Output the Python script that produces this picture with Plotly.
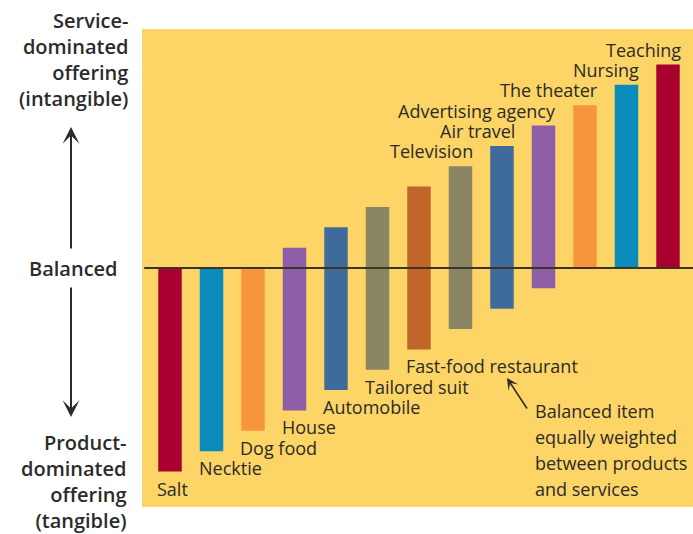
import plotly.graph_objects as go

# Offerings ordered from product-dominated to service-dominated
offerings = ["Salt", "Necktie", "Dog food", "House", "Automobile", "Tailored suit",
             "Fast-food restaurant", "Television", "Air travel", "Advertising agency",
             "The theater", "Nursing", "Teaching"]
# Service (intangible) share drawn above the balance line, product (tangible) share below it
service = [0, 0, 0, 1, 2, 3, 4, 5, 6, 7, 8, 9, 10]
product = [10, 9, 8, 7, 6, 5, 4, 3, 2, 1, 0, 0, 0]
colors = ["#A8002F", "#0A8CBB", "#F7963C", "#8E5FA8", "#3F6A9C", "#8A8562", "#C0662A",
          "#8A8562", "#3F6A9C", "#8E5FA8", "#F7963C", "#0A8CBB", "#A8002F"]
# Labels placed above the bar (service side) vs. below it (product side)
label_above = [False] * 7 + [True] * 6

service_lines = ["Service-", "dominated", "offering", "(intangible)"]
product_lines = ["Product-", "dominated", "offering", "(tangible)"]
callout_lines = ["Balanced item", "equally weighted", "between products", "and services"]

W, H = 693, 534
L, T, R, B = 142, 29, 0, 27
PW, PH = W - L - R, H - T - B
BAR_W = 0.566
TEXT = "#2b2b2b"
FONT = "Open Sans"
LABEL_FONT = dict(family=FONT, size=18, color=TEXT)
SIDE_FONT = dict(family=FONT, size=20, color=TEXT, weight=600)


def px(x):
    return (x - L) / PW


def py(y):
    return (H - B - y) / PH


xs = list(range(len(offerings)))
fig = go.Figure(go.Bar(
    x=xs,
    y=[s + p for s, p in zip(service, product)],
    base=[-p for p in product],
    width=BAR_W,
    marker=dict(color=colors, line=dict(width=0)),
    hovertext=offerings,
    hoverinfo="text",
))

annotations = []
for i, name in enumerate(offerings):
    if label_above[i]:
        annotations.append(dict(x=i + BAR_W / 2, y=service[i], xref="x", yref="y",
                                text=name, showarrow=False, xanchor="right",
                                yanchor="middle", yshift=15, xshift=2, borderpad=0,
                                font=LABEL_FONT))
    else:
        annotations.append(dict(x=i - BAR_W / 2, y=-product[i], xref="x", yref="y",
                                text=name, showarrow=False, xanchor="left",
                                yanchor="middle", yshift=-17, xshift=-2, borderpad=0,
                                font=LABEL_FONT))

# Scale captions on the left, each as one multi-line block
annotations += [
    dict(x=px(129), y=py(59), xref="paper", yref="paper", text="<br>".join(service_lines),
         showarrow=False, xanchor="right", yanchor="middle", align="right",
         borderpad=0, font=SIDE_FONT),
    dict(x=px(73), y=py(268), xref="paper", yref="paper", text="Balanced",
         showarrow=False, xanchor="center", yanchor="middle", borderpad=0, font=SIDE_FONT),
    dict(x=px(128), y=py(481), xref="paper", yref="paper", text="<br>".join(product_lines),
         showarrow=False, xanchor="right", yanchor="middle", align="right",
         borderpad=0, font=SIDE_FONT),
]

# Callout text, one line per annotation for wider line spacing
for k, line in enumerate(callout_lines):
    annotations.append(dict(x=px(534), y=py(411 + 26 * k), xref="paper", yref="paper",
                            text=line, showarrow=False, xanchor="left", yanchor="middle",
                            borderpad=0, font=LABEL_FONT))

annotations += [
    # scale arrows
    dict(x=px(71), y=py(127), xref="paper", yref="paper", ax=0, ay=123, text="",
         showarrow=True, arrowhead=3, arrowsize=1.4, arrowwidth=2, arrowcolor=TEXT),
    dict(x=px(71), y=py(417), xref="paper", yref="paper", ax=0, ay=-131, text="",
         showarrow=True, arrowhead=3, arrowsize=1.4, arrowwidth=2, arrowcolor=TEXT),
    # callout arrow for the balanced item
    dict(x=px(507), y=py(378), xref="paper", yref="paper", ax=21, ay=32, text="",
         showarrow=True, arrowhead=3, arrowsize=1.3, arrowwidth=1.5, arrowcolor=TEXT),
]

unit = 20.35
x_lo = -(170 - L) / 41.5
fig.update_layout(
    width=W, height=H,
    margin=dict(l=L, r=R, t=T, b=B, pad=0),
    paper_bgcolor="white",
    plot_bgcolor="#FDD466",
    showlegend=False,
    xaxis=dict(range=[x_lo, x_lo + PW / 41.5], visible=False, fixedrange=True),
    yaxis=dict(range=[-(H - B - 268) / unit, (268 - T) / unit], visible=False,
               fixedrange=True),
    shapes=[dict(type="line", xref="paper", yref="y", x0=0.004, x1=1, y0=0, y1=0,
                 line=dict(color="#3b3526", width=2), layer="above")],
    annotations=annotations,
)

fig.write_html("out.html")
